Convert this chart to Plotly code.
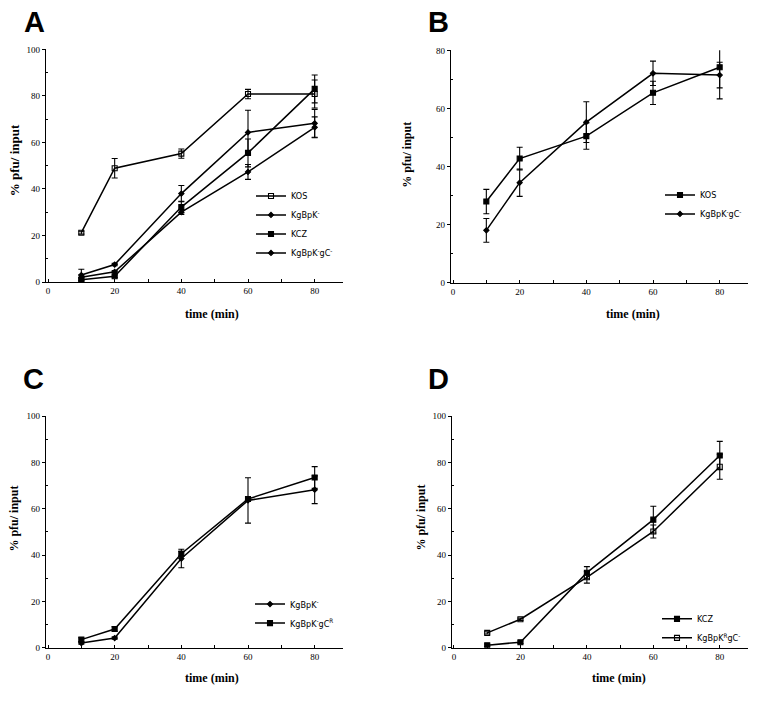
import plotly.graph_objects as go

W, H = 758, 704

time_min = [10, 20, 40, 60, 80]

# Panel A
a_kos = [21.2, 48.9, 55.2, 80.8, 80.8]
a_kos_err = [0.6, 4.2, 2.0, 2.0, 6.0]
a_kgbpk = [3.0, 7.5, 38.0, 64.3, 68.2]
a_kgbpk_err = [2.5, 0.5, 3.5, 9.5, 6.0]
a_kcz = [1.0, 2.5, 32.2, 55.5, 83.0]
a_kcz_err = [0.5, 0.5, 2.5, 6.0, 6.0]
a_kgbpkgc = [2.0, 4.4, 30.0, 47.3, 66.5]
a_kgbpkgc_err = [1.0, 0.5, 1.0, 3.2, 4.5]

# Panel B
b_kos = [28.0, 42.8, 50.5, 65.4, 74.2]
b_kos_err = [4.2, 3.9, 4.5, 4.0, 10.9]
b_kgbpkgc = [18.1, 34.5, 55.3, 72.1, 71.5]
b_kgbpkgc_err = [4.1, 4.7, 7.0, 4.2, 4.4]

# Panel C
c_kgbpk = [2.0, 4.2, 38.5, 63.6, 68.2]
c_kgbpk_err = [0.5, 0.5, 4.0, 9.8, 6.0]
c_kgbpkgcr = [3.5, 8.1, 40.6, 64.2, 73.5]
c_kgbpkgcr_err = [0.8, 1.0, 1.0, 1.0, 4.7]

# Panel D
d_kcz = [1.1, 2.4, 32.4, 55.3, 83.0]
d_kcz_err = [0.5, 0.5, 2.6, 5.8, 6.1]
d_kgbpkrgc = [6.4, 12.3, 30.4, 50.2, 78.1]
d_kgbpkrgc_err = [0.5, 0.5, 2.5, 2.8, 5.4]

x_ticks = [0, 20, 40, 60, 80]
y_ticks_100 = [0, 20, 40, 60, 80, 100]
y_ticks_80 = [0, 20, 40, 60, 80]

panel_letters = ["A", "B", "C", "D"]
x_title = "time (min)"
y_title = "% pfu/ input"

fig = go.Figure()


def add(x, y, err, name, symbol, size, xa, ya, legend):
    fig.add_trace(go.Scatter(
        x=x, y=y, name=name, mode="lines+markers",
        xaxis=xa, yaxis=ya, legend=legend,
        line=dict(color="black", width=1.5),
        marker=dict(symbol=symbol, size=size, color="black",
                    line=dict(color="black", width=1.1)),
        error_y=dict(type="data", array=err, visible=True, color="black",
                     thickness=1.1, width=3),
    ))


SQ, DI = 5, 4

add(time_min, a_kos, a_kos_err, "KOS", "square-open", SQ, "x", "y", "legend")
add(time_min, a_kgbpk, a_kgbpk_err, "KgBpK<sup>-</sup>", "diamond", DI, "x", "y", "legend")
add(time_min, a_kcz, a_kcz_err, "KCZ", "square", SQ, "x", "y", "legend")
add(time_min, a_kgbpkgc, a_kgbpkgc_err, "KgBpK<sup>-</sup>gC<sup>-</sup>", "diamond", DI, "x", "y", "legend")

add(time_min, b_kos, b_kos_err, "KOS", "square", SQ, "x2", "y2", "legend2")
add(time_min, b_kgbpkgc, b_kgbpkgc_err, "KgBpK<sup>-</sup>gC<sup>-</sup>", "diamond", DI, "x2", "y2", "legend2")

add(time_min, c_kgbpk, c_kgbpk_err, "KgBpK<sup>-</sup>", "diamond", DI, "x3", "y3", "legend3")
add(time_min, c_kgbpkgcr, c_kgbpkgcr_err, "KgBpK<sup>-</sup>gC<sup>R</sup>", "square", SQ, "x3", "y3", "legend3")

add(time_min, d_kcz, d_kcz_err, "KCZ", "square", SQ, "x4", "y4", "legend4")
add(time_min, d_kgbpkrgc, d_kgbpkrgc_err, "KgBpK<sup>R</sup>gC<sup>-</sup>", "square-open", SQ, "x4", "y4", "legend4")


def px_x(p):
    return p / W


def px_y(p):
    return 1 - p / H


serif = "Liberation Serif"
sans = "Liberation Sans"
narrow = "Liberation Sans Narrow, DejaVu Sans Condensed, Liberation Sans"

# panel pixel boxes in the window: (left, right, top, bottom)
boxes = {
    1: (46, 343, 45, 281),
    2: (451, 748, 46, 282),
    3: (46, 343, 417, 652),
    4: (452, 748, 417, 652),
}

tickfont = dict(family=serif, size=9, color="black")


def xaxis_cfg(i):
    l, r, t, b = boxes[i]
    return dict(
        domain=[px_x(l), px_x(r)], range=[-0.6, 88.5],
        anchor="y" if i == 1 else f"y{i}",
        showline=True, linecolor="black", linewidth=1.3, mirror=False,
        showgrid=False, zeroline=False,
        tickvals=x_ticks, ticks="inside", ticklen=3, tickcolor="black", tickwidth=1,
        tickfont=tickfont,
        minor=dict(tickvals=[10, 30, 50, 70], ticks="inside", ticklen=3, tickcolor="black"),
        fixedrange=True,
    )


def yaxis_cfg(i, top):
    l, r, t, b = boxes[i]
    tv = y_ticks_100 if top == 100 else y_ticks_80
    mv = [v + 10 for v in tv[:-1]]
    return dict(
        domain=[px_y(b), px_y(t)], range=[0, top],
        anchor="x" if i == 1 else f"x{i}",
        showline=True, linecolor="black", linewidth=1.3,
        showgrid=False, zeroline=False,
        tickvals=tv, ticks="outside", ticklen=3, tickcolor="black", tickwidth=1,
        tickfont=tickfont,
        minor=dict(tickvals=mv, ticks="inside", ticklen=2, tickcolor="black"),
        fixedrange=True,
    )


legend_font = dict(family=narrow, size=9, color="black")


def legend_cfg(xpx, ypx):
    return dict(
        x=px_x(xpx), y=px_y(ypx), xanchor="left", yanchor="top",
        font=legend_font, bgcolor="rgba(0,0,0,0)", borderwidth=0,
        itemwidth=30, tracegroupgap=0, itemclick=False, itemdoubleclick=False,
    )


fig.update_layout(
    width=W, height=H,
    margin=dict(l=0, r=0, t=0, b=0),
    paper_bgcolor="white", plot_bgcolor="white",
    showlegend=True, hovermode=False,
    xaxis=xaxis_cfg(1), yaxis=yaxis_cfg(1, 100),
    xaxis2=xaxis_cfg(2), yaxis2=yaxis_cfg(2, 80),
    xaxis3=xaxis_cfg(3), yaxis3=yaxis_cfg(3, 100),
    xaxis4=xaxis_cfg(4), yaxis4=yaxis_cfg(4, 100),
    legend=legend_cfg(251, 179),
    legend2=legend_cfg(660, 178),
    legend3=legend_cfg(250, 593),
    legend4=legend_cfg(657, 608),
)

annots = []
# panel letters: top rows anchored at the top edge, bottom rows centred
letter_pos = [(34, 0, "top"), (438, 0, "top"), (33, 379, "middle"), (438, 379, "middle")]
for letter, (lx, ly, ya) in zip(panel_letters, letter_pos):
    annots.append(dict(text=f"<b>{letter}</b>", x=px_x(lx), y=px_y(ly), xref="paper", yref="paper",
                       showarrow=False, xanchor="center", yanchor=ya, borderpad=0,
                       font=dict(family=sans, size=29, color="black")))

xt_pos = [(212, 313), (633, 313), (211.5, 683), (618.5, 683)]
for (tx, ty) in xt_pos:
    annots.append(dict(text=f"<b>{x_title}</b>", x=px_x(tx), y=px_y(ty), xref="paper", yref="paper",
                       showarrow=False, xanchor="center", yanchor="middle",
                       font=dict(family=serif, size=12, color="black")))

# y-axis titles: (centre x px, centre y px, font size)
yt_pos = [(14, 157.5, 13), (407, 152, 12), (14, 521, 12), (421, 520, 12)]
for (tx, ty, fs) in yt_pos:
    annots.append(dict(text=f"<b>{y_title}</b>", x=px_x(tx), y=px_y(ty), xref="paper", yref="paper",
                       showarrow=False, xanchor="center", yanchor="middle", textangle=-90, borderpad=0,
                       font=dict(family=serif, size=fs, color="black")))

fig.update_layout(annotations=annots)

fig.write_html("out.html", config={"displayModeBar": False},
               post_script="document.body.style.margin='0';")
